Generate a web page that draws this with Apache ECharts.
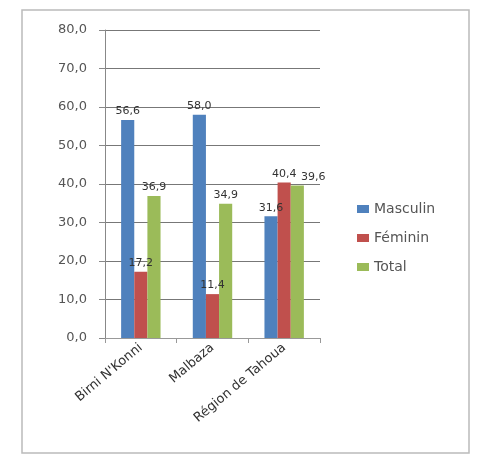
<!DOCTYPE html>
<html><head><meta charset="utf-8">
<script src="https://cdn.jsdelivr.net/npm/echarts@6/dist/echarts.min.js"></script>
<style>html,body{margin:0;padding:0;background:#fff}#c{width:479px;height:458px}</style>
</head><body><div id="c"></div>
<script>
const categories = ["Birni N'Konni", "Malbaza", "Région de Tahoua"];
const masculin = [56.6, 58.0, 31.6];
const feminin = [17.2, 11.4, 40.4];
const total = [36.9, 34.9, 39.6];
const yTicks = [0, 10, 20, 30, 40, 50, 60, 70, 80];

const fmt = v => v.toFixed(1).replace('.', ',');
const chart = echarts.init(document.getElementById('c'));
const lbl = {show: true, position: 'top', distance: 3, fontSize: 11, color: '#333', fontFamily: 'DejaVu Sans',
  formatter: p => fmt(p.value)};
const totalData = total.map((v, i) => i === 2 ? {value: v, label: {offset: [16, 0]}} : v);
chart.setOption({
  animation: false,
  graphic: [{type: 'rect', shape: {x: 22, y: 10, width: 447, height: 443},
    style: {fill: 'none', stroke: '#bbb', lineWidth: 1.5}, silent: true}],
  grid: {left: 105, right: 159, top: 30, bottom: 120},
  legend: {orient: 'vertical', left: 352, top: 197, itemWidth: 12, itemHeight: 8, itemGap: 15,
    icon: 'rect', textStyle: {fontSize: 14, color: '#555', fontFamily: 'DejaVu Sans'},
    data: ['Masculin', 'Féminin', 'Total']},
  xAxis: {type: 'category', data: categories,
    axisLine: {lineStyle: {color: '#999'}}, axisTick: {show: true, lineStyle: {color: '#999'}},
    axisLabel: {rotate: 40, fontSize: 13, color: '#333', fontFamily: 'DejaVu Sans', margin: 8, interval: 0}},
  yAxis: {type: 'value', min: 0, max: 80, interval: 10,
    axisLine: {show: true, lineStyle: {color: '#888'}},
    axisTick: {show: true, length: 6, lineStyle: {color: '#888'}},
    splitLine: {lineStyle: {color: '#777', width: 1}},
    axisLabel: {fontSize: 13, color: '#555', fontFamily: 'DejaVu Sans', margin: 18,
      formatter: v => yTicks.includes(v) ? fmt(v) : ''}},
  series: [
    {name: 'Masculin', type: 'bar', data: masculin, barGap: '0%', barCategoryGap: '45%',
      itemStyle: {color: '#4F81BD'}, label: lbl},
    {name: 'Féminin', type: 'bar', data: feminin, itemStyle: {color: '#C0504D'}, label: lbl},
    {name: 'Total', type: 'bar', data: totalData, itemStyle: {color: '#9BBB59'}, label: lbl}
  ]
});
</script></body></html>
